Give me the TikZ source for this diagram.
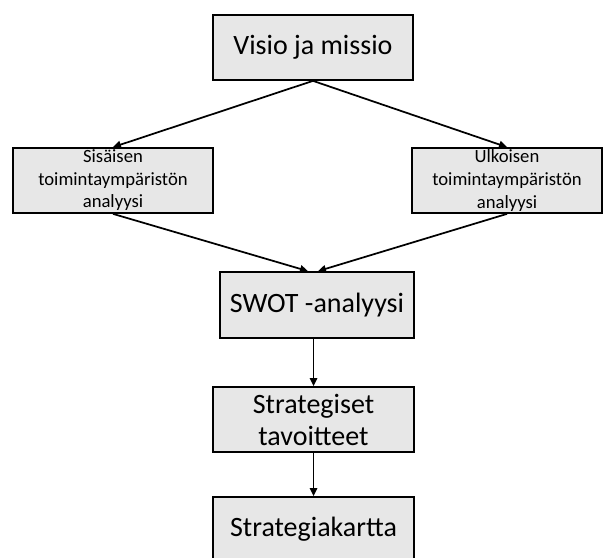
\documentclass[tikz,border=0pt]{standalone}
\usepackage{fontspec}
\setmainfont{Carlito}
\usetikzlibrary{arrows.meta}
\definecolor{boxgray}{RGB}{231,231,231}
\tikzset{
  block/.style={draw=black, line width=1.3pt, fill=boxgray, inner sep=0pt, align=center},
  bigblock/.style={block, font=\fontsize{21}{24}\selectfont},
  smallblock/.style={block, font=\fontsize{14}{16.9}\selectfont},
  arr/.style={-{Triangle[length=6pt,width=5.5pt]}, line width=1.3pt}
}
\begin{document}
\begin{tikzpicture}[x=0.75pt,y=-0.75pt]
\useasboundingbox (0,0) rectangle (603,557);
\node[bigblock, minimum width=150pt, minimum height=48.75pt] (visio) at (313,47.5) {Visio ja missio};
\node[smallblock, minimum width=150pt, minimum height=48.75pt] (sis) at (113,180.5) {Sisäisen\\toimintaympäristön\\analyysi};
\node[smallblock, minimum width=142.5pt, minimum height=48.75pt] (ulk) at (507,180.5) {Ulkoisen\\toimintaympäristön\\analyysi};
\node[bigblock, minimum width=145.5pt, minimum height=49.5pt] (swot) at (317,305) {SWOT -analyysi};
\node[bigblock, minimum width=150.75pt, minimum height=48.75pt] (strat) at (313.5,419.5) {Strategiset\\tavoitteet};
\node[bigblock, minimum width=150.75pt, minimum height=48.75pt] (kartta) at (313.5,529.5) {Strategiakartta};
\draw[arr] (visio.south) -- (sis.north);
\draw[arr] (visio.south) -- (ulk.north);
\draw[arr] (sis.south) -- ([xshift=-6.75pt]swot.north);
\draw[arr] (ulk.south) -- ([xshift=0.75pt]swot.north);
\draw[arr] (swot.south -| strat.north) -- (strat.north);
\draw[arr] (strat.south) -- (kartta.north);
\end{tikzpicture}
\end{document}
